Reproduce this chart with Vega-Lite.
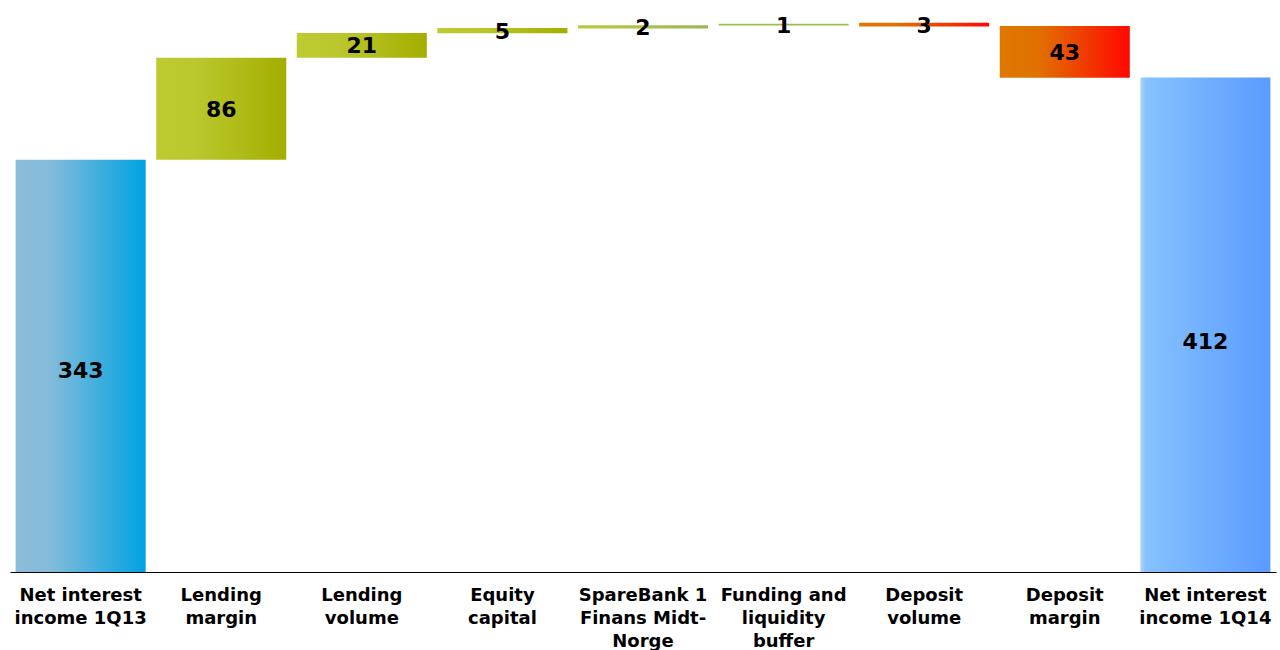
{
  "$schema": "https://vega.github.io/schema/vega-lite/v6.json",
  "width": 1266,
  "height": 572,
  "autosize": "none",
  "padding": {"left": 10, "top": 0, "right": 4, "bottom": 78},
  "background": "white",
  "config": {"view": {"stroke": null}, "font": "DejaVu Sans"},
  "data": {
    "values": [
      {"cat": "Net interest|income 1Q13", "label": "343", "start": 0, "end": 343, "g": "blue1"},
      {"cat": "Lending|margin", "label": "86", "start": 343, "end": 428, "g": "green"},
      {"cat": "Lending|volume", "label": "21", "start": 428, "end": 448.5, "g": "green"},
      {"cat": "Equity|capital", "label": "5", "start": 448.3, "end": 452.6, "g": "green"},
      {"cat": "SpareBank 1|Finans Midt-|Norge", "label": "2", "start": 452.3, "end": 455, "g": "green2"},
      {"cat": "Funding and|liquidity|buffer", "label": "1", "start": 454.7, "end": 456.3, "g": "green3"},
      {"cat": "Deposit|volume", "label": "3", "start": 457.1, "end": 453.9, "g": "red"},
      {"cat": "Deposit|margin", "label": "43", "start": 454.4, "end": 411.2, "g": "red"},
      {"cat": "Net interest|income 1Q14", "label": "412", "start": 0, "end": 411.5, "g": "blue2"}
    ]
  },
  "encoding": {
    "x": {
      "field": "cat", "type": "nominal", "sort": null,
      "scale": {"paddingInner": 0.075, "paddingOuter": 0.04},
      "axis": {
        "title": null, "labelAngle": 0, "ticks": false,
        "domainColor": "#000000", "domainWidth": 1.2,
        "labelFont": "DejaVu Sans", "labelFontWeight": "bold", "labelFontSize": 18,
        "labelColor": "#000000", "labelPadding": 14, "labelLineHeight": 23,
        "labelBaseline": "top",
        "labelExpr": "split(datum.value, '|')"
      }
    }
  },
  "layer": [
    {
      "transform": [{"filter": "datum.g == 'blue1'"}],
      "mark": {"type": "bar", "color": {"gradient": "linear", "x1": 0, "y1": 0, "x2": 1, "y2": 0,
        "stops": [{"offset": 0, "color": "#8abdd8"}, {"offset": 0.25, "color": "#86bcda"}, {"offset": 1, "color": "#00a2e1"}]}},
      "encoding": {"y": {"field": "start", "type": "quantitative", "scale": {"domain": [0, 476], "nice": false}, "axis": null}, "y2": {"field": "end"}}
    },
    {
      "transform": [{"filter": "datum.g == 'green'"}],
      "mark": {"type": "bar", "color": {"gradient": "linear", "x1": 0, "y1": 0, "x2": 1, "y2": 0,
        "stops": [{"offset": 0, "color": "#bdca30"}, {"offset": 0.3, "color": "#bac82e"}, {"offset": 1, "color": "#a4ae00"}]}},
      "encoding": {"y": {"field": "start", "type": "quantitative"}, "y2": {"field": "end"}}
    },
    {
      "transform": [{"filter": "datum.g == 'green2'"}],
      "mark": {"type": "bar", "color": {"gradient": "linear", "x1": 0, "y1": 0, "x2": 1, "y2": 0,
        "stops": [{"offset": 0, "color": "#bac93a"}, {"offset": 1, "color": "#9ab85a"}]}},
      "encoding": {"y": {"field": "start", "type": "quantitative"}, "y2": {"field": "end"}}
    },
    {
      "transform": [{"filter": "datum.g == 'green3'"}],
      "mark": {"type": "bar", "color": "#9dbb52"},
      "encoding": {"y": {"field": "start", "type": "quantitative"}, "y2": {"field": "end"}}
    },
    {
      "transform": [{"filter": "datum.g == 'red'"}],
      "mark": {"type": "bar", "color": {"gradient": "linear", "x1": 0, "y1": 0, "x2": 1, "y2": 0,
        "stops": [{"offset": 0, "color": "#de7800"}, {"offset": 0.3, "color": "#e07000"}, {"offset": 1, "color": "#ff0800"}]}},
      "encoding": {"y": {"field": "start", "type": "quantitative"}, "y2": {"field": "end"}}
    },
    {
      "transform": [{"filter": "datum.g == 'blue2'"}],
      "mark": {"type": "bar", "color": {"gradient": "linear", "x1": 0, "y1": 0, "x2": 1, "y2": 0,
        "stops": [{"offset": 0, "color": "#b0d4f4"}, {"offset": 0.02, "color": "#9ccbf8"}, {"offset": 0.04, "color": "#86c2fd"}, {"offset": 1, "color": "#5a9bff"}]}},
      "encoding": {"y": {"field": "start", "type": "quantitative"}, "y2": {"field": "end"}}
    },
    {
      "transform": [
        {"filter": "datum.g != 'blue1' && datum.g != 'blue2'"},
        {"fold": ["start", "end"], "as": ["k", "v"]},
        {"aggregate": [{"op": "mean", "field": "v", "as": "mid"}], "groupby": ["cat", "label"]}
      ],
      "mark": {"type": "text", "font": "DejaVu Sans", "fontWeight": "bold", "fontSize": 22, "color": "#000000", "baseline": "middle", "dy": 1},
      "encoding": {"y": {"field": "mid", "type": "quantitative"}, "text": {"field": "label"}}
    },
    {
      "transform": [
        {"filter": "datum.g == 'blue1'"},
        {"fold": ["start", "end"], "as": ["k", "v"]},
        {"aggregate": [{"op": "mean", "field": "v", "as": "mid"}], "groupby": ["cat", "label"]}
      ],
      "mark": {"type": "text", "font": "DejaVu Sans", "fontWeight": "bold", "fontSize": 22, "color": "#000000", "baseline": "middle", "dy": 5},
      "encoding": {"y": {"field": "mid", "type": "quantitative"}, "text": {"field": "label"}}
    },
    {
      "transform": [
        {"filter": "datum.g == 'blue2'"},
        {"fold": ["start", "end"], "as": ["k", "v"]},
        {"aggregate": [{"op": "mean", "field": "v", "as": "mid"}], "groupby": ["cat", "label"]}
      ],
      "mark": {"type": "text", "font": "DejaVu Sans", "fontWeight": "bold", "fontSize": 22, "color": "#000000", "baseline": "middle", "dy": 17},
      "encoding": {"y": {"field": "mid", "type": "quantitative"}, "text": {"field": "label"}}
    }
  ]
}
